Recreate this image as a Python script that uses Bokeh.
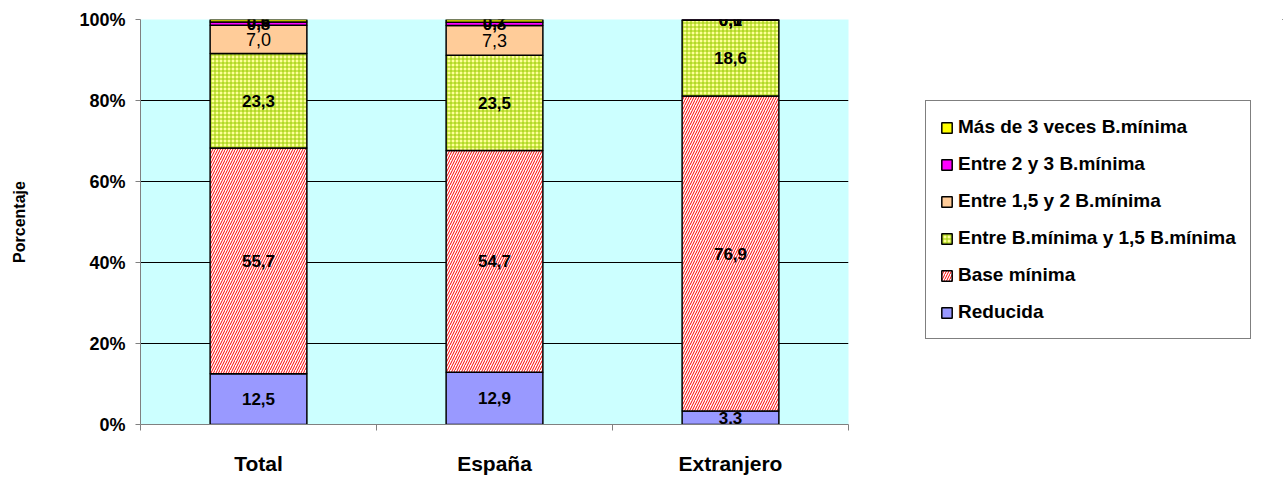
from bokeh.plotting import figure
from bokeh.layouts import row
from bokeh.models import ColumnDataSource, FixedTicker, Legend, LegendItem, Range1d
from bokeh.embed import file_html
from bokeh.resources import INLINE
from bokeh.core.properties import value

categories = ["Total", "España", "Extranjero"]
series_names = ["Reducida", "Base mínima", "Entre B.mínima y 1,5 B.mínima",
                "Entre 1,5 y 2 B.mínima", "Entre 2 y 3 B.mínima", "Más de 3 veces B.mínima"]
reducida = [12.5, 12.9, 3.3]
base_minima = [55.7, 54.7, 76.9]
entre_bmin_15 = [23.3, 23.5, 18.6]
entre_15_2 = [7.0, 7.3, 0.0]
entre_2_3 = [0.8, 0.8, 0.1]
mas_de_3 = [0.6, 0.7, 0.0]
y_ticks = [0, 20, 40, 60, 80, 100]
y_tick_labels = ["0%", "20%", "40%", "60%", "80%", "100%"]

series = [reducida, base_minima, entre_bmin_15, entre_15_2, entre_2_3, mas_de_3]
styles = [
    dict(fill_color="#9999FF"),
    dict(fill_color="#FFFFFF", hatch_pattern="/", hatch_color="#FF0000", hatch_scale=5, hatch_weight=1),
    dict(fill_color="#FFFF99", hatch_pattern="+", hatch_color="#99CC00", hatch_scale=4, hatch_weight=1),
    dict(fill_color="#FFCC99"),
    dict(fill_color="#FF00FF"),
    dict(fill_color="#FFFF00"),
]
label_styles = ["bold", "bold", "bold", "normal", "bold", "bold"]
label_show = [True, True, True, [True, True, False], True, True]

FONT = "Liberation Sans"
H = 477

p = figure(width=860, height=H, output_backend="svg", toolbar_location=None,
           x_range=Range1d(0, 3), y_range=Range1d(0, 100),
           min_border_left=140, min_border_right=12, min_border_top=19, min_border_bottom=51)
p.background_fill_color = "#CCFFFF"
p.border_fill_color = "#FFFFFF"
p.outline_line_color = None

xs = [i + 0.5 for i in range(len(categories))]
totals = [sum(s[i] for s in series) for i in range(len(categories))]
cum = [0.0] * len(categories)
for k, s in enumerate(series):
    bottoms = [cum[i] / totals[i] * 100 for i in range(len(categories))]
    tops = [(cum[i] + s[i]) / totals[i] * 100 for i in range(len(categories))]
    cum = [cum[i] + s[i] for i in range(len(categories))]
    src = ColumnDataSource(dict(x=xs, bottom=bottoms, top=tops,
                                mid=[(b + t) / 2 for b, t in zip(bottoms, tops)],
                                lab=[("%.1f" % v).replace(".", ",") for v in s]))
    p.vbar(x="x", bottom="bottom", top="top", width=0.41, source=src,
           line_color="#000000", line_width=1.5, **styles[k])
    show = label_show[k]
    if show is True:
        tsrc = src
    else:
        tsrc = ColumnDataSource({key: [v for v, f in zip(vals, show) if f] for key, vals in src.data.items()})
    p.text(x="x", y="mid", text="lab", source=tsrc, text_align="center", text_baseline="middle",
           text_font=value(FONT), text_font_size="18px" if label_styles[k] == "normal" else "17px",
           text_font_style=label_styles[k], text_color="#000000")

p.xgrid.visible = False
p.ygrid.ticker = FixedTicker(ticks=y_ticks)
p.ygrid.grid_line_color = "#000000"
p.ygrid.grid_line_width = 1

yax = p.yaxis[0]
yax.ticker = FixedTicker(ticks=y_ticks)
yax.major_label_overrides = {t: l for t, l in zip(y_ticks, y_tick_labels)}
yax.major_label_text_font = FONT
yax.major_label_text_font_style = "bold"
yax.major_label_text_font_size = "18px"
yax.major_label_text_color = "#000000"
yax.axis_line_color = "#808080"
yax.major_tick_line_color = "#808080"
yax.major_tick_out = 5
yax.major_tick_in = 0
yax.minor_tick_line_color = None
yax.major_label_standoff = 10
yax.axis_label = "Porcentaje"
yax.axis_label_text_font = FONT
yax.axis_label_text_font_style = "bold"
yax.axis_label_text_font_size = "16px"
yax.axis_label_text_color = "#000000"
yax.axis_label_standoff = 48

xax = p.xaxis[0]
xax.ticker = FixedTicker(ticks=xs, minor_ticks=[0, 1, 2, 3])
xax.major_label_overrides = {x: c for x, c in zip(xs, categories)}
xax.major_label_text_font = FONT
xax.major_label_text_font_style = "bold"
xax.major_label_text_font_size = "21px"
xax.major_label_text_color = "#000000"
xax.major_label_standoff = 21
xax.axis_line_color = "#808080"
xax.major_tick_line_color = None
xax.major_tick_out = 0
xax.major_tick_in = 0
xax.minor_tick_line_color = "#808080"
xax.minor_tick_out = 6
xax.minor_tick_in = 0

# legend panel
lw = 1283 - 860
lf = figure(width=lw, height=H, output_backend="svg", toolbar_location=None,
            x_range=Range1d(0, 1), y_range=Range1d(0, 1),
            min_border_left=0, min_border_right=0, min_border_top=0, min_border_bottom=0)
lf.axis.visible = False
lf.grid.visible = False
lf.outline_line_color = None
lf.background_fill_color = "#FFFFFF"
lrs = []
for k in range(len(series)):
    lrs.append(lf.vbar(x=[5], bottom=[5], top=[6], width=0.4, line_color="#000000", line_width=1.5, **styles[k]))
items = [LegendItem(label=series_names[k], renderers=[lrs[k]]) for k in range(len(series) - 1, -1, -1)]
legend = Legend(items=items, location=(925 - 860, 85), border_line_color="#000000", border_line_width=1,
                background_fill_color="#FFFFFF", background_fill_alpha=1.0,
                label_text_font=FONT, label_text_font_style="bold", label_text_font_size="19px",
                label_text_color="#000000",
                glyph_width=13, glyph_height=13, label_height=24, spacing=13, padding=14,
                label_standoff=5, margin=0)
lf.add_layout(legend, "center")

layout = row(p, lf)
open("out.html", "w").write(file_html(layout, INLINE))
